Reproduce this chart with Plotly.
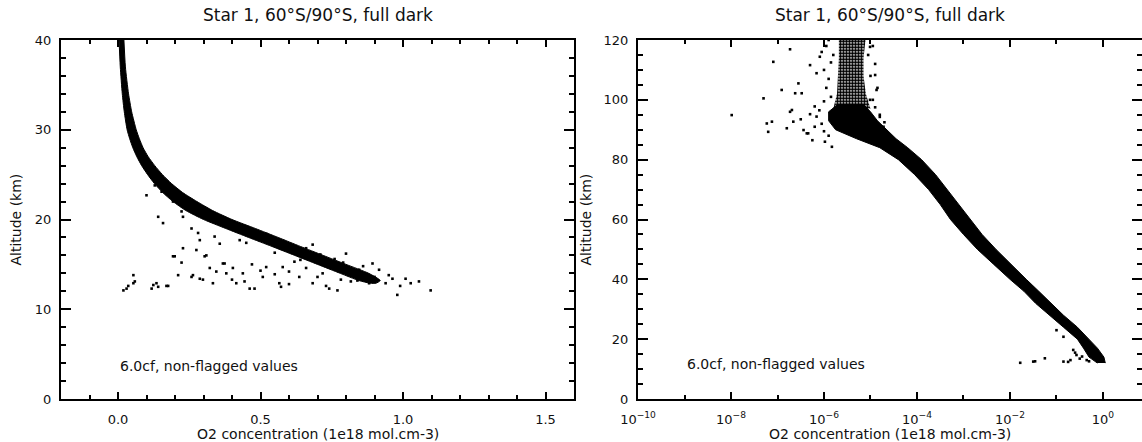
import numpy as np
import plotly.graph_objects as go

# ---------------- text ----------------
panel_title = "Star 1, 60°S/90°S, full dark"
x_title = "O2 concentration (1e18 mol.cm-3)"
y_title = "Altitude (km)"
note_text = "6.0cf, non-flagged values"

# ---------------- left panel data (linear) ----------------
# dense band of measurements: lower / upper concentration bound at each altitude
band_alt = [40.5, 37, 34, 32, 30, 29, 28, 27, 26, 25, 24, 23, 22, 21, 20, 19, 18, 17, 16, 15, 14, 13.2, 12.9]
band_lo = [0.003, 0.008, 0.015, 0.022, 0.032, 0.041, 0.052, 0.066, 0.083, 0.104, 0.128, 0.157, 0.193, 0.238,
           0.30, 0.378, 0.458, 0.54, 0.62, 0.70, 0.78, 0.845, 0.885]
band_hi = [0.020, 0.026, 0.037, 0.048, 0.064, 0.075, 0.088, 0.106, 0.129, 0.156, 0.188, 0.227, 0.277, 0.332,
           0.40, 0.482, 0.562, 0.64, 0.72, 0.80, 0.88, 0.92, 0.905]
# isolated measurements (concentration, altitude)
left_outliers = [
    (0.100, 22.7), (0.129, 23.8), (0.153, 23.1), (0.193, 22.0), (0.141, 20.3), (0.158, 19.6), (0.223, 20.9),
    (0.228, 20.3), (0.258, 19.0), (0.281, 18.5), (0.287, 17.7), (0.228, 16.8), (0.275, 16.6), (0.310, 16.0),
    (0.199, 15.9), (0.223, 15.2), (0.054, 13.8), (0.036, 12.6), (0.059, 13.1), (0.124, 12.7), (0.141, 12.5),
    (0.176, 12.6), (0.211, 13.8), (0.263, 13.8), (0.287, 13.4), (0.322, 14.6), (0.345, 14.2), (0.374, 15.1),
    (0.380, 14.0), (0.403, 14.6), (0.415, 12.9), (0.438, 14.0), (0.357, 17.3), (0.427, 17.7), (0.339, 18.1),
    (0.019, 12.1), (0.030, 12.3), (0.054, 12.9), (0.118, 12.3), (0.135, 12.9), (0.170, 12.6), (0.193, 15.9),
    (0.258, 13.6), (0.298, 13.3), (0.304, 15.9), (0.333, 12.9), (0.368, 15.1), (0.444, 13.1), (0.462, 12.3),
    (0.479, 12.3), (0.508, 13.6), (0.520, 14.7), (0.572, 12.5), (0.566, 12.9), (0.636, 13.6), (0.683, 12.9),
    (0.741, 12.3), (0.770, 12.1), (0.817, 13.1), (0.840, 13.6), (0.881, 12.9), (0.939, 12.9), (0.963, 13.4),
    (0.980, 11.6), (1.009, 13.4), (1.027, 12.9), (1.056, 13.1), (1.097, 12.1), (0.893, 15.1), (0.846, 14.4),
    (0.800, 16.2), (0.753, 14.7), (0.683, 17.2), (0.619, 15.3), (0.578, 14.7), (0.718, 14.0), (0.782, 13.3),
    (0.916, 14.4), (0.875, 13.8), (0.47, 15.0), (0.55, 13.9), (0.60, 14.2), (0.66, 14.6), (0.70, 13.6),
    (0.95, 13.8), (0.99, 12.6), (0.73, 12.6), (0.60, 12.8), (0.50, 14.3), (0.40, 13.3),
    (0.52, 18.4), (0.58, 17.6), (0.62, 17.0), (0.76, 15.6), (0.86, 14.8), (0.66, 16.8), (0.71, 16.1),
    (0.79, 15.2), (0.55, 16.3), (0.64, 15.5), (0.45, 17.4), (0.84, 13.2), (0.90, 13.6),
]

# ---------------- right panel data (log10 of concentration) ----------------
rband_alt = [12.0, 14, 17, 20, 24, 28, 32, 36, 40, 45, 50, 55, 60, 65, 70, 75, 80, 84, 87, 90, 93, 96, 98.5]
rband_lo_log = [-0.12, -0.3, -0.42, -0.55, -0.85, -1.15, -1.45, -1.7, -2.0, -2.35, -2.7, -3.0, -3.28, -3.5,
                -3.75, -4.05, -4.4, -4.8, -5.3, -5.75, -5.9, -5.9, -5.7]
rband_hi_log = [0.05, 0.02, -0.12, -0.3, -0.55, -0.85, -1.12, -1.38, -1.65, -1.98, -2.3, -2.6, -2.86, -3.1,
                -3.35, -3.6, -3.9, -4.2, -4.45, -4.65, -4.85, -5.0, -5.15]
# sparse column of values above ~97 km
rcol_alt = [97, 102, 108, 114, 121]
rcol_lo_log = [-5.8, -5.72, -5.7, -5.68, -5.68]
rcol_hi_log = [-5.0, -5.1, -5.15, -5.15, -5.1]
right_outliers = [
    (-7.985, 94.9), (-7.30, 100.5), (-7.20, 89.3), (-7.12, 92.7), (-7.09, 112.7), (-6.91, 103.3),
    (-6.73, 96.0), (-6.66, 92.7), (-6.62, 102.2), (-6.55, 105.5), (-6.48, 102.2), (-6.44, 89.9),
    (-6.34, 88.8), (-6.30, 111.6), (-6.16, 94.4), (-6.16, 108.9), (-6.09, 114.4), (-6.73, 116.9),
    (-6.69, 96.6), (-6.37, 88.8), (-7.23, 92.1), (-6.0, 99.5), (-5.95, 104), (-6.05, 92), (-5.9, 88),
    (-5.83, 84.3), (-6.2, 91), (-6.1, 96.5), (-5.95, 118), (-6.0, 110), (-5.9, 107), (-5.85, 101),
    (-5.8, 115), (-5.75, 97), (-4.95, 118), (-4.9, 112), (-4.85, 104), (-4.95, 100), (-5.0, 108),
    (-5.05, 115), (-4.8, 95), (-4.7, 92.5), (-4.9, 97.5), (-5.01, 117.7), (-4.9, 108.3), (-4.87, 103.3),
    (-5.01, 100.0), (-4.8, 94.3), (-4.72, 91.0), (-6.25, 86.5), (-6.5, 93.5), (-6.8, 90.5),
    (-6.2, 97.8), (-6.3, 95.2), (-6.0, 89.5), (-5.98, 86.0), (-5.85, 112.5), (-5.9, 120.0), (-6.05, 116.0),
    (-1.78, 12.1), (-1.5, 12.5), (-1.46, 12.6), (-1.25, 13.6), (-0.85, 12.5), (-0.75, 12.4), (-0.57, 14.7),
    (-1.0, 23.0), (-0.85, 20.8), (-0.64, 16.4), (-0.5, 13.5), (-0.45, 14.2), (-0.6, 15.5), (-0.35, 13.0),
    (-0.3, 12.6), (-0.7, 13.0),
]

# ---------------- figure ----------------
W, H = 1142, 442
FONT = "DejaVu Sans"
INK = "#111111"

fig = go.Figure()

# left band
fig.add_trace(go.Scatter(
    x=band_lo + band_hi[::-1], y=band_alt + band_alt[::-1],
    fill="toself", fillcolor="black", line=dict(color="black", width=1, shape="spline", smoothing=0.6),
    mode="lines", xaxis="x", yaxis="y", hoverinfo="skip", showlegend=False))
lx, ly = zip(*left_outliers)
fig.add_trace(go.Scatter(
    x=list(lx), y=list(ly), mode="markers",
    marker=dict(symbol="square", size=2.6, color="black", line=dict(width=0)),
    xaxis="x", yaxis="y", showlegend=False))

# right band
rlo = list(10 ** np.array(rband_lo_log))
rhi = list(10 ** np.array(rband_hi_log))
fig.add_trace(go.Scatter(
    x=rlo + rhi[::-1], y=rband_alt + rband_alt[::-1],
    fill="toself", fillcolor="black", line=dict(color="black", width=1),
    mode="lines", xaxis="x2", yaxis="y2", hoverinfo="skip", showlegend=False))
clo = list(10 ** np.array(rcol_lo_log))
chi = list(10 ** np.array(rcol_hi_log))
fig.add_trace(go.Scatter(
    x=clo + chi[::-1], y=rcol_alt + rcol_alt[::-1],
    fill="toself", fillcolor="rgba(0,0,0,0)",
    fillpattern=dict(shape=".", fgcolor="black", bgcolor="rgba(0,0,0,0)", size=3, solidity=0.75),
    line=dict(width=0), mode="lines", xaxis="x2", yaxis="y2", hoverinfo="skip", showlegend=False))
rx, ry = zip(*right_outliers)
fig.add_trace(go.Scatter(
    x=list(10 ** np.array(rx)), y=list(ry), mode="markers",
    marker=dict(symbol="square", size=2.6, color="black", line=dict(width=0)),
    xaxis="x2", yaxis="y2", showlegend=False))

L_dom = [61 / W, 574 / W]
R_dom = [638 / W, 1.0]
Y_dom = [(H - 399) / H, (H - 40) / H]

axis_common = dict(showgrid=False, zeroline=False, showline=True, linecolor="black", linewidth=2,
                   mirror="ticks", ticks="inside", tickcolor="black", tickwidth=2, automargin=False,
                   tickfont=dict(family=FONT, size=13, color=INK))

fig.update_layout(
    template="none",
    width=W, height=H, margin=dict(l=0, r=0, t=0, b=0, pad=0, autoexpand=False),
    paper_bgcolor="white", plot_bgcolor="white", showlegend=False,
    font=dict(family=FONT, color=INK),
    xaxis=dict(domain=L_dom, anchor="y", range=[-0.2, 1.6], tickmode="linear", tick0=0, dtick=0.5,
               tickformat=".1f", ticklen=7, ticklabelstandoff=7,
               minor=dict(ticks="inside", dtick=0.1, tick0=0, ticklen=4, tickwidth=1.5, tickcolor="black"),
               **axis_common),
    yaxis=dict(domain=Y_dom, anchor="x", range=[0, 40], tickmode="linear", tick0=0, dtick=10,
               ticklen=10, ticklabelstandoff=5,
               minor=dict(ticks="inside", dtick=2, tick0=0, ticklen=5, tickwidth=1.5, tickcolor="black"),
               **axis_common),
    xaxis2=dict(domain=R_dom, anchor="y2", type="log", range=[-10, 0.839],
                tickmode="array", tickvals=[1e-10, 1e-8, 1e-6, 1e-4, 1e-2, 1],
                ticktext=["10<sup>−10</sup>", "10<sup>−8</sup>", "10<sup>−6</sup>", "10<sup>−4</sup>",
                          "10<sup>−2</sup>", "10<sup>0</sup>"],
                ticklen=7, ticklabelstandoff=7,
                minor=dict(ticks="inside", tickmode="array", tickvals=[1e-9, 1e-7, 1e-5, 1e-3, 1e-1],
                           ticklen=4, tickwidth=1.5, tickcolor="black"),
                **axis_common),
    yaxis2=dict(domain=Y_dom, anchor="x2", range=[0, 120], tickmode="linear", tick0=0, dtick=20,
                ticklen=10, ticklabelstandoff=5,
                minor=dict(ticks="inside", dtick=5, tick0=0, ticklen=5, tickwidth=1.5, tickcolor="black"),
                **axis_common),
)

ann = []
for cx in [(61 + 574) / 2 / W, (638 + 1141) / 2 / W]:
    ann.append(dict(text=panel_title, x=cx, y=(H - 15) / H, xref="paper", yref="paper",
                    showarrow=False, xanchor="center", yanchor="middle",
                    font=dict(family=FONT, size=17, color=INK)))
    ann.append(dict(text=x_title, x=cx, y=(H - 434) / H, xref="paper", yref="paper",
                    showarrow=False, xanchor="center", yanchor="middle",
                    font=dict(family=FONT, size=14, color=INK)))
for px in [15, 585]:
    ann.append(dict(text=y_title, x=px / W, y=(H - 219.5) / H, xref="paper", yref="paper",
                    showarrow=False, xanchor="center", yanchor="middle", textangle=-90,
                    font=dict(family=FONT, size=14, color=INK)))
ann.append(dict(text=note_text, x=0.0, y=3.7, xref="x", yref="y", showarrow=False,
                xanchor="left", yanchor="middle", font=dict(family=FONT, size=14, color=INK)))
ann.append(dict(text=note_text, x=-9.0, y=11.7, xref="x2", yref="y2", showarrow=False,
                xanchor="left", yanchor="middle", font=dict(family=FONT, size=14, color=INK)))
fig.update_layout(annotations=ann)

fig.write_html("out.html")
